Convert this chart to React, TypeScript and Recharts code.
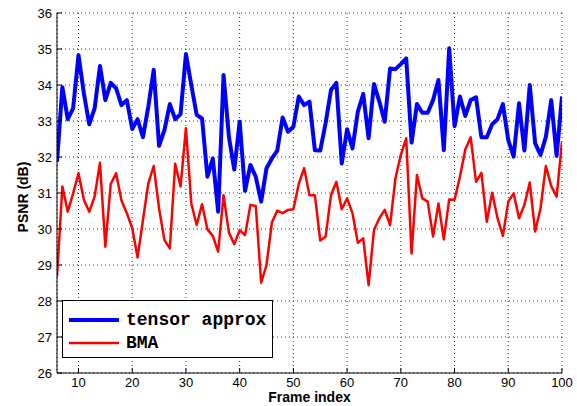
import { LineChart, Line, XAxis, YAxis, CartesianGrid } from 'recharts'

const frames = [
  6, 7, 8, 9, 10, 11, 12, 13, 14, 15, 16, 17, 18, 19, 20, 21, 22, 23, 24, 25,
  26, 27, 28, 29, 30, 31, 32, 33, 34, 35, 36, 37, 38, 39, 40, 41, 42, 43, 44, 45,
  46, 47, 48, 49, 50, 51, 52, 53, 54, 55, 56, 57, 58, 59, 60, 61, 62, 63, 64, 65,
  66, 67, 68, 69, 70, 71, 72, 73, 74, 75, 76, 77, 78, 79, 80, 81, 82, 83, 84, 85,
  86, 87, 88, 89, 90, 91, 92, 93, 94, 95, 96, 97, 98, 99, 100,
]

const tensorApprox = [
  31.87, 33.94, 33.05, 33.35, 34.83, 33.77, 32.91, 33.35, 34.53, 33.58,
  34.06, 33.91, 33.44, 33.58, 32.78, 33.05, 32.55, 33.4, 34.42, 32.31,
  32.75, 33.47, 33.05, 33.19, 34.86, 34.0, 33.17, 33.07, 31.45, 31.96,
  30.48, 34.28, 32.56, 31.65, 32.98, 31.06, 31.78, 31.45, 30.76, 31.69,
  31.96, 32.18, 33.1, 32.7, 32.84, 33.68, 33.44, 33.54, 32.19, 32.18,
  32.94, 33.86, 34.06, 31.82, 32.77, 32.24, 33.26, 33.75, 32.52, 34.03,
  33.54, 32.98, 34.46, 34.44, 34.58, 34.74, 32.4, 33.47, 33.23, 33.23,
  33.58, 34.14, 32.19, 35.02, 32.86, 33.68, 33.14, 33.58, 33.66, 32.55,
  32.55, 32.91, 33.05, 33.47, 32.47, 32.01, 33.49, 32.18, 34.0, 32.38,
  32.06, 32.56, 33.58, 32.03, 33.68,
]

const bma = [
  28.68, 31.18, 30.48, 30.99, 31.55, 30.81, 30.48, 30.9, 31.84, 29.51,
  31.25, 31.55, 30.79, 30.44, 30.02, 29.21, 30.25, 31.27, 31.75, 30.57,
  29.69, 29.46, 31.81, 31.18, 32.8, 30.71, 30.11, 30.69, 29.99, 29.81,
  29.37, 30.94, 29.9, 29.58, 29.97, 29.83, 30.67, 30.64, 28.51, 29.0,
  30.18, 30.51, 30.44, 30.53, 30.55, 31.25, 31.69, 30.94, 30.94, 29.68,
  29.79, 30.94, 31.31, 30.55, 30.85, 30.44, 29.62, 29.74, 28.44, 29.97,
  30.3, 30.53, 30.11, 31.41, 32.06, 32.52, 29.32, 31.5, 30.85, 30.76,
  29.79, 30.71, 29.71, 30.82, 30.81, 31.45, 32.21, 32.55, 31.31, 31.56,
  30.2, 31.01, 30.3, 29.81, 30.76, 30.99, 30.3, 30.67, 31.29, 29.93,
  30.57, 31.75, 31.19, 30.9, 32.43,
]

const xTicks = [10, 20, 30, 40, 50, 60, 70, 80, 90, 100]
const yTicks = [26, 27, 28, 29, 30, 31, 32, 33, 34, 35, 36]

const data = frames.map((frame, i) => ({ frame, tensor: tensorApprox[i], bma: bma[i] }))

const series = [
  { key: 'tensor', name: 'tensor approx', color: '#0000ff', width: 4 },
  { key: 'bma', name: 'BMA', color: '#ff0000', width: 2.5 },
]

const FONT = '"Liberation Sans", Arial, Helvetica, sans-serif'
const MONO = '"Liberation Mono", "Courier New", monospace'

// MATLAB-style ticks: short marks pointing into the plot box
function BottomTick({ x, y, payload }: any) {
  return (
    <g>
      <line x1={x} x2={x} y1={y} y2={y - 5} stroke="#000" />
      <text x={x} y={y + 14} textAnchor="middle" fontSize={13} fontFamily={FONT} fill="#000">
        {payload.value}
      </text>
    </g>
  )
}

function TopTick({ x, y }: any) {
  return <line x1={x} x2={x} y1={y} y2={y + 5} stroke="#000" />
}

function LeftTick({ x, y, payload }: any) {
  return (
    <g>
      <line x1={x} x2={x + 5} y1={y} y2={y} stroke="#000" />
      <text x={x - 5} y={y + 4.5} textAnchor="end" fontSize={13} fontFamily={FONT} fill="#000">
        {payload.value}
      </text>
    </g>
  )
}

function RightTick({ x, y }: any) {
  return <line x1={x} x2={x - 5} y1={y} y2={y} stroke="#000" />
}

function YLabel({ viewBox }: any) {
  const cx = viewBox.x + 28
  const cy = viewBox.y + viewBox.height / 2 + 4
  return (
    <text
      x={cx}
      y={cy}
      transform={`rotate(-90, ${cx}, ${cy})`}
      textAnchor="middle"
      fontSize={14}
      fontWeight="bold"
      fontFamily={FONT}
      fill="#000"
    >
      PSNR (dB)
    </text>
  )
}

function XLabel({ viewBox }: any) {
  return (
    <text
      x={viewBox.x + viewBox.width / 2}
      y={viewBox.y + 29}
      textAnchor="middle"
      fontSize={14}
      fontWeight="bold"
      fontFamily={FONT}
      fill="#000"
    >
      Frame index
    </text>
  )
}

function LegendBox() {
  return (
    <div
      style={{
        position: 'absolute',
        left: 62,
        top: 300,
        width: 209,
        height: 56,
        border: '1px solid #000',
        background: '#fff',
      }}
    >
      <svg width={209} height={56} style={{ display: 'block' }}>
        {series.map((s, i) => (
          <g key={s.key}>
            <line x1={6} x2={56} y1={19 + i * 23} y2={19 + i * 23} stroke={s.color} strokeWidth={s.width} />
            <text x={63} y={24 + i * 23} fontSize={18} fontWeight="bold" fontFamily={MONO} fill="#000">
              {s.name}
            </text>
          </g>
        ))}
      </svg>
    </div>
  )
}

export default function App() {
  return (
    <div style={{ position: 'fixed', left: 0, top: 0, width: 577, height: 406, background: '#fff' }}>
      <LineChart width={577} height={406} data={data} margin={{ top: 13, right: 15, bottom: 0, left: 0 }}>
        <CartesianGrid stroke="#333" strokeDasharray="1 3" />
        <XAxis
          type="number"
          dataKey="frame"
          domain={[6, 100]}
          ticks={xTicks}
          height={33}
          tickSize={0}
          tickMargin={0}
          tickLine={false}
          tick={BottomTick}
          axisLine={{ stroke: '#000' }}
          allowDataOverflow
          label={<XLabel />}
        />
        <XAxis
          xAxisId="top"
          orientation="top"
          type="number"
          dataKey="frame"
          domain={[6, 100]}
          ticks={xTicks}
          height={0}
          tickSize={0}
          tickMargin={0}
          tickLine={false}
          tick={TopTick}
          axisLine={{ stroke: '#000' }}
          allowDataOverflow
        />
        <YAxis
          type="number"
          domain={[26, 36]}
          ticks={yTicks}
          width={57}
          tickSize={0}
          tickMargin={0}
          tickLine={false}
          tick={LeftTick}
          axisLine={{ stroke: '#000' }}
          allowDataOverflow
          label={<YLabel />}
        />
        <YAxis
          yAxisId="r"
          orientation="right"
          type="number"
          domain={[26, 36]}
          ticks={yTicks}
          width={0}
          tickSize={0}
          tickMargin={0}
          tickLine={false}
          tick={RightTick}
          axisLine={{ stroke: '#000' }}
          allowDataOverflow
        />
        {series.map((s) => (
          <Line
            key={s.key}
            type="linear"
            dataKey={s.key}
            name={s.name}
            stroke={s.color}
            strokeWidth={s.width}
            strokeLinejoin="round"
            dot={false}
            isAnimationActive={false}
          />
        ))}
      </LineChart>
      <LegendBox />
    </div>
  )
}
